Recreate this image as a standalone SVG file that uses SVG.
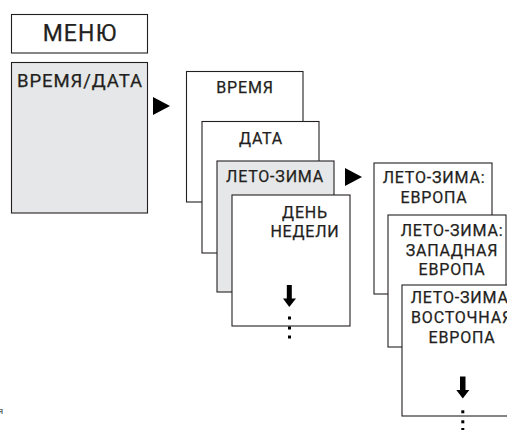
<svg xmlns="http://www.w3.org/2000/svg" width="507" height="430" viewBox="0 0 507 430">
<style>
.box{fill:#ffffff;stroke:#231f20;stroke-width:1.1}
.gray{fill:#e6e7e8;stroke:#231f20;stroke-width:1.1}
.t{font-family:Roboto,"Liberation Sans",sans-serif;fill:#231f20;stroke:#231f20;stroke-width:0.25;text-anchor:middle;letter-spacing:0.05em}
.s{font-size:16px}
.tri{fill:#000000}
.dark{fill:#000000}
</style>
<rect width="507" height="430" fill="#ffffff"/>
<g id="menu">
<rect class="box" x="11.5" y="14.5" width="136" height="38.5"/>
<text class="t" x="80" y="41" font-size="23px">МЕНЮ</text>
</g>
<g id="time-date">
<rect class="gray" x="11.5" y="62.5" width="136" height="150.5"/>
<text class="t" x="80" y="87" font-size="18.5px">ВРЕМЯ/ДАТА</text>
</g>
<g id="time">
<rect class="box" x="186.5" y="71.5" width="116.5" height="130.5"/>
<text class="t s" x="245" y="93">ВРЕМЯ</text>
</g>
<g id="date">
<rect class="box" x="202" y="121.5" width="117" height="131.5"/>
<text class="t s" x="261" y="144">ДАТА</text>
</g>
<g id="summer-winter">
<rect class="gray" x="217" y="161" width="117" height="131"/>
<text class="t s" x="275" y="182">ЛЕТО-ЗИМА</text>
</g>
<g id="weekday">
<rect class="box" x="232" y="195" width="118" height="131"/>
<text class="t s" x="305" y="218">ДЕНЬ</text>
<text class="t s" x="305" y="237">НЕДЕЛИ</text>
<rect class="dark" x="286.8" y="285" width="5" height="14"/>
<polygon class="dark" points="283,298.5 296,298.5 289.3,307"/>
<rect class="dark" x="288" y="316.5" width="3" height="3"/>
<rect class="dark" x="288" y="326.5" width="3" height="3"/>
<rect class="dark" x="288" y="335.5" width="3" height="3"/>
</g>
<g id="sw-europe">
<rect class="box" x="374" y="163" width="118" height="131"/>
<text class="t s" x="434" y="183">ЛЕТО-ЗИМА:</text>
<text class="t s" x="434" y="203">ЕВРОПА</text>
</g>
<g id="sw-west-europe">
<rect class="box" x="388" y="215" width="118" height="132"/>
<text class="t s" x="452" y="236">ЛЕТО-ЗИМА:</text>
<text class="t s" x="452" y="256">ЗАПАДНАЯ</text>
<text class="t s" x="452" y="275">ЕВРОПА</text>
</g>
<g id="sw-east-europe">
<rect class="box" x="402" y="285" width="120" height="131"/>
<text class="t s" x="462" y="303">ЛЕТО-ЗИМА:</text>
<text class="t s" x="462" y="323">ВОСТОЧНАЯ</text>
<text class="t s" x="462" y="343">ЕВРОПА</text>
<rect class="dark" x="460" y="376.5" width="5.5" height="14.5"/>
<polygon class="dark" points="456.3,390 469.3,390 462.8,398.5"/>
<rect class="dark" x="461.3" y="410.3" width="3" height="3"/>
<rect class="dark" x="461.3" y="420.3" width="3" height="3"/>
<rect class="dark" x="461.3" y="428" width="3" height="3"/>
</g>
<g id="connectors">
<polygon class="tri" points="153,97 153,115 170,106"/>
<polygon class="tri" points="345,168 345,186 362,177"/>
</g>
<text x="-1.8" y="413.7" font-family="Roboto,'Liberation Sans',sans-serif" font-size="7.5px" fill="#231f20">Я</text>
</svg>
